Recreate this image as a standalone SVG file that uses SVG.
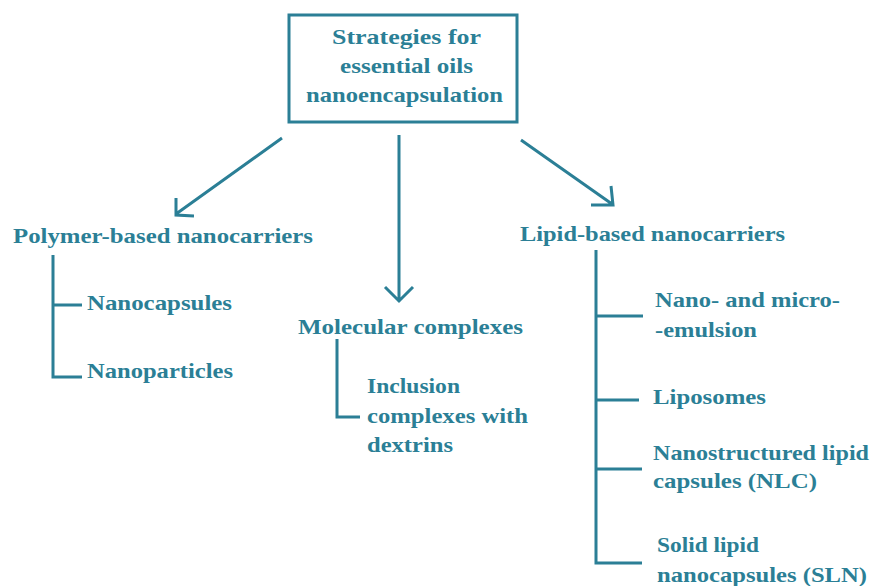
<svg xmlns="http://www.w3.org/2000/svg" width="870" height="586" viewBox="0 0 870 586">
<style>
text{font-family:"Liberation Serif","DejaVu Serif","Times New Roman",serif;font-weight:bold;font-size:22px;fill:#2b7f96}
.ln{stroke:#2b7f96;stroke-width:3;fill:none}
</style>
<rect width="870" height="586" fill="#fff"/>
<g id="root">
<rect x="289" y="15" width="228" height="107" class="ln"/>
<text x="332" y="44" textLength="149" lengthAdjust="spacingAndGlyphs">Strategies for</text>
<text x="340" y="73" textLength="133" lengthAdjust="spacingAndGlyphs">essential oils</text>
<text x="306" y="102" textLength="197" lengthAdjust="spacingAndGlyphs">nanoencapsulation</text>
</g>
<g id="polymer">
<text x="13" y="243" textLength="300" lengthAdjust="spacingAndGlyphs">Polymer-based nanocarriers</text>
</g>
<g id="nanocapsules"><text x="87" y="310" textLength="145" lengthAdjust="spacingAndGlyphs">Nanocapsules</text></g>
<g id="nanoparticles"><text x="87" y="378" textLength="146" lengthAdjust="spacingAndGlyphs">Nanoparticles</text></g>
<g id="molecular"><text x="298" y="334" textLength="225" lengthAdjust="spacingAndGlyphs">Molecular complexes</text></g>
<g id="inclusion">
<text x="367" y="393" textLength="93" lengthAdjust="spacingAndGlyphs">Inclusion</text>
<text x="367" y="423" textLength="161" lengthAdjust="spacingAndGlyphs">complexes with</text>
<text x="367" y="452" textLength="86" lengthAdjust="spacingAndGlyphs">dextrins</text>
</g>
<g id="lipid"><text x="520" y="241" textLength="265" lengthAdjust="spacingAndGlyphs">Lipid-based nanocarriers</text></g>
<g id="emulsion">
<text x="655" y="307" textLength="185" lengthAdjust="spacingAndGlyphs">Nano- and micro-</text>
<text x="655" y="337" textLength="102" lengthAdjust="spacingAndGlyphs">-emulsion</text>
</g>
<g id="liposomes"><text x="653" y="404" textLength="113" lengthAdjust="spacingAndGlyphs">Liposomes</text></g>
<g id="nlc">
<text x="653" y="460" textLength="216" lengthAdjust="spacingAndGlyphs">Nanostructured lipid</text>
<text x="653" y="488" textLength="164" lengthAdjust="spacingAndGlyphs">capsules (NLC)</text>
</g>
<g id="sln">
<text x="657" y="552" textLength="102" lengthAdjust="spacingAndGlyphs">Solid lipid</text>
<text x="657" y="582" textLength="210" lengthAdjust="spacingAndGlyphs">nanocapsules (SLN)</text>
</g>
<g id="connectors" class="ln">
<path d="M282,138 L176,214 M176,198 L176,215 L194,216"/>
<path d="M399,135 L399,301 M385,287 L399,301 L413,287"/>
<path d="M521,140 L612,204 M591,205 L613,205 L611,186"/>
<path d="M53,255 L53,377 L82,377 M53,305 L82,305"/>
<path d="M337,339 L337,417 L360,417"/>
<path d="M596,250 L596,563 L642,563 M596,316 L643,316 M596,400 L639,400 M596,469 L642,469"/>
</g>
</svg>
